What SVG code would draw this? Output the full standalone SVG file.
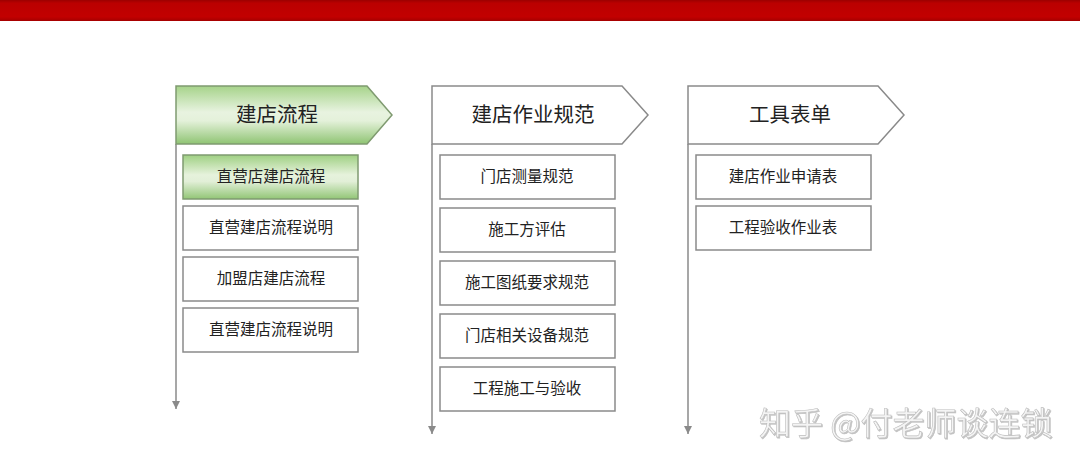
<svg xmlns="http://www.w3.org/2000/svg" width="1080" height="466" viewBox="0 0 1080 466">
  <style>
    .hdr { fill: #ffffff; stroke: #8a8a8a; stroke-width: 1.5; }
    .hdr-g { fill: url(#greenGrad); stroke: #7f9a70; stroke-width: 1.5; }
    .box { fill: #ffffff; stroke: #8a8a8a; stroke-width: 1.5; }
    .box-g { fill: url(#greenGrad2); stroke: #7f9a70; stroke-width: 1.5; }
    .ht { font-family: "Noto Sans CJK SC", "Liberation Sans", sans-serif; font-size: 20.5px; fill: #222; text-anchor: middle; }
    .bt { font-family: "Noto Sans CJK SC", "Liberation Sans", sans-serif; font-size: 15.5px; fill: #222; text-anchor: middle; }
    .conn { stroke: #8a8a8a; stroke-width: 1.5; fill: none; marker-end: url(#arr); }
    .wm { font-family: "Noto Sans CJK SC", "Liberation Sans", sans-serif; font-size: 32px; fill: #f4f4f4; stroke: #bdbdbd; stroke-width: 0.6; filter: url(#sh); }
  </style>
  <defs>
    <linearGradient id="greenGrad" x1="0" y1="0" x2="0" y2="1">
      <stop offset="0" stop-color="#a6d38a"/>
      <stop offset="0.45" stop-color="#e8f3e0"/>
      <stop offset="0.6" stop-color="#e4f1da"/>
      <stop offset="1" stop-color="#8fc473"/>
    </linearGradient>
    <linearGradient id="greenGrad2" x1="0" y1="0" x2="0" y2="1">
      <stop offset="0" stop-color="#9fd083"/>
      <stop offset="0.45" stop-color="#e6f2dc"/>
      <stop offset="0.6" stop-color="#e2efd8"/>
      <stop offset="1" stop-color="#92c676"/>
    </linearGradient>
    <linearGradient id="redGrad" x1="0" y1="0" x2="0" y2="1">
      <stop offset="0" stop-color="#9c0000"/>
      <stop offset="0.15" stop-color="#bb0000"/>
      <stop offset="0.8" stop-color="#c20000"/>
      <stop offset="1" stop-color="#a50000"/>
    </linearGradient>
    <marker id="arr" viewBox="0 0 8 8" refX="8" refY="4" markerWidth="8" markerHeight="8" orient="auto" markerUnits="userSpaceOnUse">
      <path d="M0,0 L8,4 L0,8 Z" fill="#8a8a8a"/>
    </marker>
    <filter id="sh" x="-5%" y="-20%" width="110%" height="140%">
      <feDropShadow dx="1" dy="1" stdDeviation="0.5" flood-color="#999" flood-opacity="0.6"/>
    </filter>
  </defs>

  <rect x="0" y="0" width="1080" height="466" fill="#ffffff"/>
  <rect x="0" y="0" width="1080" height="21" fill="url(#redGrad)"/>

  <g id="connectors">
    <line class="conn" x1="176" y1="144" x2="176" y2="409"/>
    <line class="conn" x1="432" y1="144" x2="432" y2="434"/>
    <line class="conn" x1="688" y1="144" x2="688" y2="434"/>
  </g>

  <g id="col1-header">
    <polygon class="hdr-g" points="176,86 367,86 392,115 367,144 176,144"/>
    <text class="ht" x="277" y="122">建店流程</text>
  </g>
  <g id="col1-item1">
    <rect class="box-g" x="183" y="155" width="175" height="44"/>
    <text class="bt" x="271" y="182">直营店建店流程</text>
  </g>
  <g id="col1-item2">
    <rect class="box" x="183" y="206" width="175" height="44"/>
    <text class="bt" x="271" y="233">直营建店流程说明</text>
  </g>
  <g id="col1-item3">
    <rect class="box" x="183" y="257" width="175" height="44"/>
    <text class="bt" x="271" y="284">加盟店建店流程</text>
  </g>
  <g id="col1-item4">
    <rect class="box" x="183" y="308" width="175" height="44"/>
    <text class="bt" x="271" y="335">直营建店流程说明</text>
  </g>

  <g id="col2-header">
    <polygon class="hdr" points="432,86 622,86 648,115 622,144 432,144"/>
    <text class="ht" x="533" y="122">建店作业规范</text>
  </g>
  <g id="col2-item1">
    <rect class="box" x="440" y="155" width="175" height="44"/>
    <text class="bt" x="527" y="182">门店测量规范</text>
  </g>
  <g id="col2-item2">
    <rect class="box" x="440" y="208" width="175" height="44"/>
    <text class="bt" x="527" y="235">施工方评估</text>
  </g>
  <g id="col2-item3">
    <rect class="box" x="440" y="261" width="175" height="44"/>
    <text class="bt" x="527" y="288">施工图纸要求规范</text>
  </g>
  <g id="col2-item4">
    <rect class="box" x="440" y="314" width="175" height="44"/>
    <text class="bt" x="527" y="341">门店相关设备规范</text>
  </g>
  <g id="col2-item5">
    <rect class="box" x="440" y="367" width="175" height="44"/>
    <text class="bt" x="527" y="394">工程施工与验收</text>
  </g>

  <g id="col3-header">
    <polygon class="hdr" points="688,86 878,86 904,115 878,144 688,144"/>
    <text class="ht" x="790" y="122">工具表单</text>
  </g>
  <g id="col3-item1">
    <rect class="box" x="696" y="155" width="175" height="44"/>
    <text class="bt" x="783" y="182">建店作业申请表</text>
  </g>
  <g id="col3-item2">
    <rect class="box" x="696" y="206" width="175" height="44"/>
    <text class="bt" x="783" y="233">工程验收作业表</text>
  </g>

  <text class="wm" x="759" y="435">知乎 @付老师谈连锁</text>
</svg>
